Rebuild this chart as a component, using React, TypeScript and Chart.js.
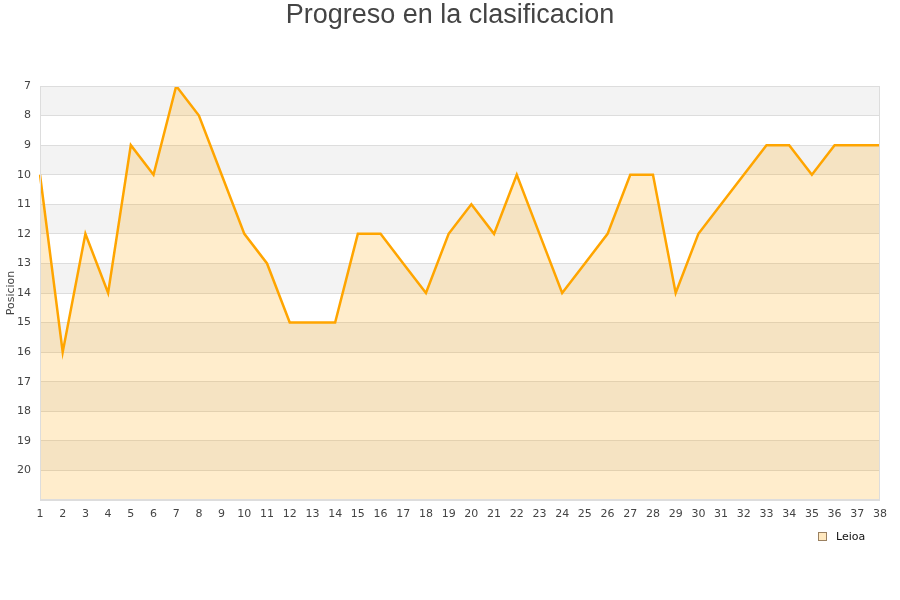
import React, { useEffect, useRef } from "react";
import { Chart, registerables } from "chart.js";

Chart.register(...registerables);

const jornadas: string[] = Array.from({ length: 38 }, (_, i) => String(i + 1));
const posiciones: number[] = [10, 16, 12, 14, 9, 10, 7, 8, 10, 12, 13, 15, 15, 15, 12, 12, 13, 14, 12, 11, 12, 10, 12, 14, 13, 12, 10, 10, 14, 12, 11, 10, 9, 9, 10, 9, 9, 9];
const equipo = "Leioa";
const titulo = "Progreso en la clasificacion";
const ejeY = "Posicion";

const bandsPlugin = {
  id: "bands",
  beforeDraw(chart: any) {
    const { ctx, chartArea, scales } = chart;
    const y = scales.y;
    ctx.save();
    ctx.fillStyle = "#ffffff";
    ctx.fillRect(0, 0, chart.width, chart.height);
    for (let v = 7; v < 21; v += 2) {
      const y1 = y.getPixelForValue(v);
      const y2 = y.getPixelForValue(v + 1);
      ctx.fillStyle = "#f3f3f3";
      ctx.fillRect(chartArea.left, Math.min(y1, y2), chartArea.right - chartArea.left, Math.abs(y2 - y1));
    }
    ctx.restore();
  },
  afterDatasetsDraw(chart: any) {
    const { ctx, chartArea } = chart;
    ctx.save();
    ctx.strokeStyle = "#dddddd";
    ctx.lineWidth = 1;
    ctx.strokeRect(chartArea.left + 0.5, chartArea.top + 0.5, chartArea.right - chartArea.left - 1, chartArea.bottom - chartArea.top - 1);
    ctx.restore();
  },
  afterDraw(chart: any) {
    const { ctx, chartArea } = chart;
    ctx.save();
    // title
    ctx.fillStyle = "#444444";
    ctx.font = "27px 'Liberation Sans', Arial, sans-serif";
    ctx.textAlign = "center";
    ctx.textBaseline = "middle";
    ctx.fillText(titulo, chart.width / 2, 16);
    // y-axis title
    ctx.save();
    ctx.translate(11, (chartArea.top + chartArea.bottom) / 2);
    ctx.rotate(-Math.PI / 2);
    ctx.font = "11px 'DejaVu Sans', sans-serif";
    ctx.fillStyle = "#444";
    ctx.textAlign = "center";
    ctx.textBaseline = "middle";
    ctx.fillText(ejeY, 0, 0);
    ctx.restore();
    // legend
    ctx.fillStyle = "rgba(255,165,0,0.25)";
    ctx.fillRect(818.5, 532.5, 8, 8);
    ctx.strokeStyle = "#9a8060";
    ctx.lineWidth = 1;
    ctx.strokeRect(818.5, 532.5, 8, 8);
    ctx.fillStyle = "#111";
    ctx.font = "11px 'DejaVu Sans', sans-serif";
    ctx.textAlign = "left";
    ctx.textBaseline = "middle";
    ctx.fillText(equipo, 836, 537);
    ctx.restore();
  },
};

export default function App() {
  const ref = useRef<HTMLCanvasElement | null>(null);
  useEffect(() => {
    if (!ref.current) return;
    const chart = new Chart(ref.current, {
      type: "line",
      data: {
        labels: jornadas,
        datasets: [
          {
            label: equipo,
            data: posiciones,
            borderColor: "#ffa500",
            backgroundColor: "rgba(255,165,0,0.2)",
            borderWidth: 2.5,
            pointRadius: 0,
            tension: 0,
            fill: "start",
          },
        ],
      },
      options: {
        animation: false,
        responsive: false,
        layout: { padding: { left: 0, right: 20, top: 86, bottom: 80 } },
        plugins: {
          title: { display: false },
          legend: { display: false },
          tooltip: { enabled: false },
        },
        scales: {
          x: {
            type: "category",
            offset: false,
            grid: { display: false, drawTicks: false },
            border: { display: false },
            afterFit: (s: any) => {
              s.height = 20;
            },
            ticks: {
              color: "#444",
              font: { family: "DejaVu Sans, sans-serif", size: 11 },
              maxRotation: 0,
              autoSkip: false,
              padding: 8,
            },
          },
          y: {
            type: "linear",
            reverse: true,
            min: 7,
            max: 21,
            grid: { color: "#dddddd", drawTicks: false },
            border: { display: false },
            afterFit: (s: any) => {
              s.width = 40;
            },
            ticks: {
              stepSize: 1,
              color: "#444",
              font: { family: "DejaVu Sans, sans-serif", size: 11 },
              padding: 9,
              callback: (v: any) => (v === 21 ? "" : String(v)),
            },
          },
        },
      },
      plugins: [bandsPlugin],
    });
    return () => chart.destroy();
  }, []);
  return (
    <div style={{ position: "fixed", left: 0, top: 0, width: 900, height: 600, background: "#fff" }}>
      <canvas ref={ref} width={900} height={600} style={{ width: 900, height: 600 }} />
    </div>
  );
}
